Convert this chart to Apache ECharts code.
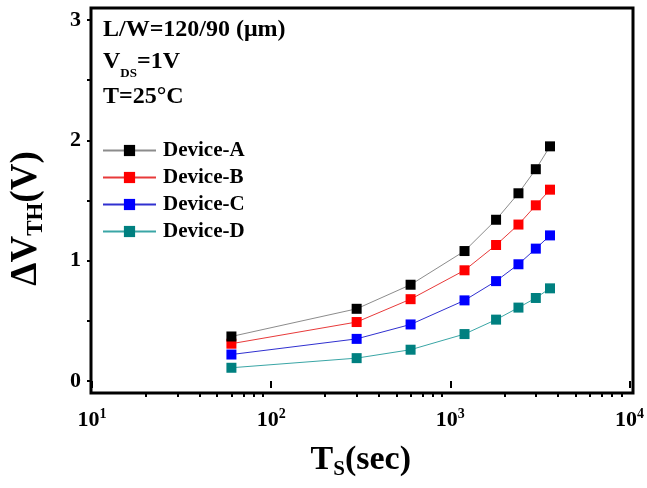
<!DOCTYPE html>
<html>
<head>
<meta charset="utf-8">
<script src="https://cdn.jsdelivr.net/npm/echarts@6/dist/echarts.min.js"></script>
<style>
html,body{margin:0;padding:0;background:#fff;}
#chart{width:647px;height:488px;}
</style>
</head>
<body>
<div id="chart"></div>
<script>
// stress time (sec) and threshold voltage shift (V) per device
var stressTime = [60, 300, 600, 1200, 1800, 2400, 3000, 3600];
var deviceA = [0.37, 0.60, 0.80, 1.08, 1.34, 1.56, 1.76, 1.95];
var deviceB = [0.31, 0.49, 0.68, 0.92, 1.13, 1.30, 1.46, 1.59];
var deviceC = [0.22, 0.35, 0.47, 0.67, 0.83, 0.97, 1.10, 1.21];
var deviceD = [0.11, 0.19, 0.26, 0.39, 0.51, 0.61, 0.69, 0.77];
var seriesNames = ['Device-A', 'Device-B', 'Device-C', 'Device-D'];
var xMinorTicks = [20, 30, 40, 50, 60, 70, 80, 90,
                   200, 300, 400, 500, 600, 700, 800, 900,
                   2000, 3000, 4000, 5000, 6000, 7000, 8000, 9000];

var FONT = '"Liberation Serif", "Times New Roman", serif';
var markerColors = ['#000000', '#ff0000', '#0000ff', '#008080'];
var lineColors = ['#8c8c8c', '#e83a3a', '#3030d0', '#3aa6a6'];
var allData = [deviceA, deviceB, deviceC, deviceD];

function pairs(ys) {
    var out = [];
    for (var i = 0; i < stressTime.length; i++) {
        out.push([stressTime[i], ys[i]]);
    }
    return out;
}

var series = [];
for (var k = 0; k < seriesNames.length; k++) {
    series.push({
        name: seriesNames[k],
        type: 'line',
        xAxisIndex: 0,
        yAxisIndex: 0,
        data: pairs(allData[k]),
        symbol: 'rect',
        symbolSize: 10,
        lineStyle: {color: lineColors[k], width: 1},
        itemStyle: {color: markerColors[k]},
        z: 10 - k
    });
}

var myChart = echarts.init(document.getElementById('chart'));

var option = {
    animation: false,
    backgroundColor: '#fff',
    grid: [
        {left: 91, right: 16, top: 20, bottom: 107},
        // outer frame
        {left: 91, right: 14, top: 8, bottom: 95, show: true, borderColor: '#000', borderWidth: 3, backgroundColor: 'transparent'}
    ],
    legend: {
        data: seriesNames,
        orient: 'vertical',
        left: 102,
        top: 140,
        padding: 0,
        itemWidth: 53,
        itemHeight: 14,
        itemGap: 6,
        textStyle: {fontFamily: FONT, fontWeight: 'bold', fontSize: 21, color: '#000', padding: [0, 0, 0, 2]}
    },
    xAxis: [
        {
            type: 'log',
            logBase: 10,
            gridIndex: 0,
            min: 10,
            max: 10000,
            offset: 12,
            axisLine: {show: false},
            axisTick: {show: true, length: 7, lineStyle: {color: '#000', width: 2}},
            splitLine: {show: false},
            axisLabel: {
                margin: 14,
                color: '#000',
                formatter: function (v) {
                    return '{b|10}{s|' + Math.round(Math.log10(v)) + '}';
                },
                rich: {
                    b: {fontFamily: FONT, fontWeight: 'bold', fontSize: 22, color: '#000'},
                    s: {fontFamily: FONT, fontWeight: 'bold', fontSize: 14, color: '#000', padding: [0, 0, 12, 0]}
                }
            },
            name: '{m|T}{s|S}{m|(sec)}',
            nameLocation: 'middle',
            nameGap: 48,
            nameTextStyle: {
                rich: {
                    m: {fontFamily: FONT, fontWeight: 'bold', fontSize: 34, color: '#000'},
                    s: {fontFamily: FONT, fontWeight: 'bold', fontSize: 21, color: '#000', padding: [18, 0, 0, 0]}
                }
            }
        },
        {
            // minor ticks 2..9 of each decade, placed on a log10 value scale
            type: 'value',
            gridIndex: 0,
            min: 1,
            max: 4,
            offset: 12,
            position: 'bottom',
            axisLine: {show: false},
            axisLabel: {show: false},
            splitLine: {show: false},
            axisTick: {
                show: true,
                length: 4,
                customValues: xMinorTicks.map(function (t) { return Math.log10(t); }),
                lineStyle: {color: '#000', width: 2}
            }
        },
        {type: 'value', gridIndex: 1, show: false, min: 0, max: 1}
    ],
    yAxis: [
        {
            type: 'value',
            gridIndex: 0,
            min: 0,
            max: 3,
            interval: 1,
            axisLine: {show: false},
            axisTick: {show: true, length: 5, lineStyle: {color: '#000', width: 2}},
            minorTick: {show: true, splitNumber: 2, length: 5, lineStyle: {color: '#000', width: 2}},
            splitLine: {show: false},
            axisLabel: {margin: 11, fontFamily: FONT, fontWeight: 'bold', fontSize: 22, color: '#000'},
            name: '{m|ΔV}{s|TH}{m|(V)}',
            nameLocation: 'middle',
            nameGap: 44,
            nameTextStyle: {
                padding: [0, 36, 0, 0],
                rich: {
                    m: {fontFamily: FONT, fontWeight: 'bold', fontSize: 37, color: '#000'},
                    s: {fontFamily: FONT, fontWeight: 'bold', fontSize: 23, color: '#000', padding: [20, 0, 0, 0]}
                }
            }
        },
        {type: 'value', gridIndex: 1, show: false, min: 0, max: 1}
    ],
    graphic: [
        {
            type: 'text', x: 103, y: 30,
            style: {text: 'L/W=120/90 (μm)', font: 'bold 24px ' + FONT, fill: '#000', verticalAlign: 'middle'}
        },
        {
            type: 'text', x: 103, y: 62,
            style: {
                text: '{m|V}{s|DS}{m|=1V}',
                verticalAlign: 'middle',
                rich: {
                    m: {fontFamily: FONT, fontWeight: 'bold', fontSize: 24, fill: '#000'},
                    s: {fontFamily: FONT, fontWeight: 'bold', fontSize: 13, fill: '#000', padding: [24, 0, 0, 0]}
                }
            }
        },
        {
            type: 'text', x: 103, y: 97,
            style: {text: 'T=25°C', font: 'bold 24px ' + FONT, fill: '#000', verticalAlign: 'middle'}
        }
    ],
    series: series
};

myChart.setOption(option);
</script>
</body>
</html>
